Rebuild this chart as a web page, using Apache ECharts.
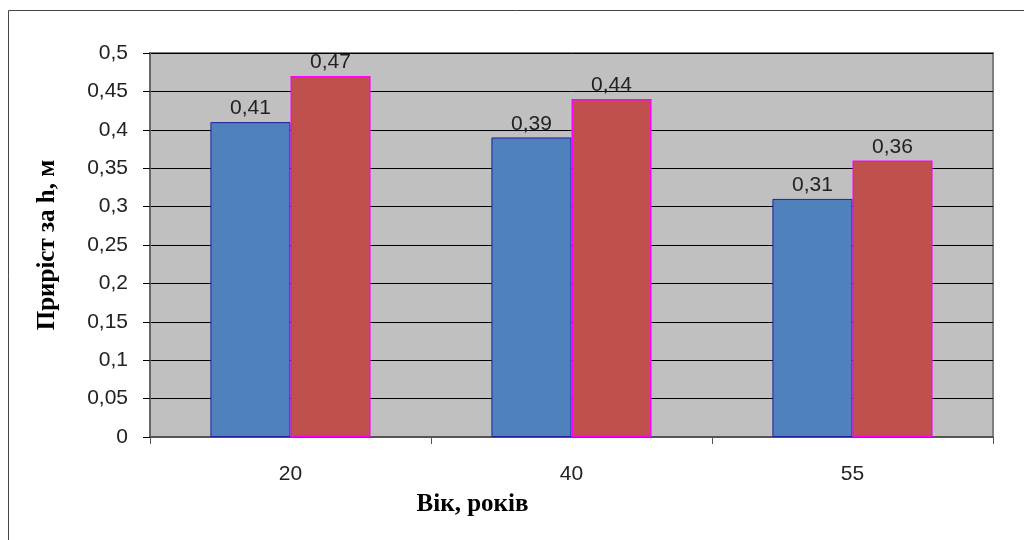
<!DOCTYPE html>
<html><head><meta charset="utf-8">
<script src="https://cdn.jsdelivr.net/npm/echarts@6/dist/echarts.min.js"></script>
<style>html,body{margin:0;padding:0;background:#fff}#c{width:1024px;height:540px}</style>
</head><body><div id="c"></div>
<script>
const categories = ['20', '40', '55'];
const series1 = [0.41, 0.39, 0.31];
const series2 = [0.47, 0.44, 0.36];
const yTicks = ['0','0,05','0,1','0,15','0,2','0,25','0,3','0,35','0,4','0,45','0,5'];
const xTitle = 'Вік, років';
const yTitle = 'Приріст за h, м';

const fmt = v => String(v).replace('.', ',');
const chart = echarts.init(document.getElementById('c'));
const labelStyle = {show: true, position: 'top', distance: 3, fontFamily: 'Liberation Sans', fontSize: 21, color: '#222', formatter: p => fmt(p.value)};
chart.setOption({
  animation: false,
  graphic: [{type: 'rect', shape: {x: 8.5, y: 10.5, width: 1100, height: 600}, style: {fill: 'none', stroke: '#444', lineWidth: 1}, z: -10}],
  grid: {left: 150, right: 31, top: 53, bottom: 103, show: true, backgroundColor: '#C0C0C0', borderColor: '#808080', borderWidth: 2},
  xAxis: {
    type: 'category', data: categories, boundaryGap: true,
    name: xTitle, nameLocation: 'middle', nameGap: 55,
    nameTextStyle: {fontFamily: 'Liberation Serif', fontWeight: 'bold', fontSize: 25, color: '#000', padding: [0, 198, 0, 0]},
    axisLine: {lineStyle: {color: '#555', width: 2}},
    axisTick: {show: true, length: 7, lineStyle: {color: '#555'}},
    axisLabel: {fontFamily: 'Liberation Sans', fontSize: 21, color: '#222', margin: 27}
  },
  yAxis: {
    type: 'value', min: 0, max: 0.5, interval: 0.05,
    name: yTitle, nameLocation: 'middle', nameGap: 90,
    nameTextStyle: {fontFamily: 'Liberation Serif', fontWeight: 'bold', fontSize: 25, color: '#000'},
    axisLine: {show: true, lineStyle: {color: '#666', width: 2}},
    axisTick: {show: true, length: 7, lineStyle: {color: '#000'}},
    axisLabel: {fontFamily: 'Liberation Sans', fontSize: 21, color: '#222', margin: 22, formatter: (v, i) => yTicks[i]},
    splitLine: {show: true, lineStyle: {color: '#000', width: 1}}
  },
  series: [
    {type: 'bar', data: series1, barGap: '0%', barCategoryGap: '43%',
     itemStyle: {color: '#4F81BD', borderColor: '#2020A0', borderWidth: 1}, label: labelStyle},
    {type: 'bar', data: series2,
     itemStyle: {color: '#C0504D', borderColor: '#FF00FF', borderWidth: 1.5}, label: labelStyle}
  ]
});
</script></body></html>
